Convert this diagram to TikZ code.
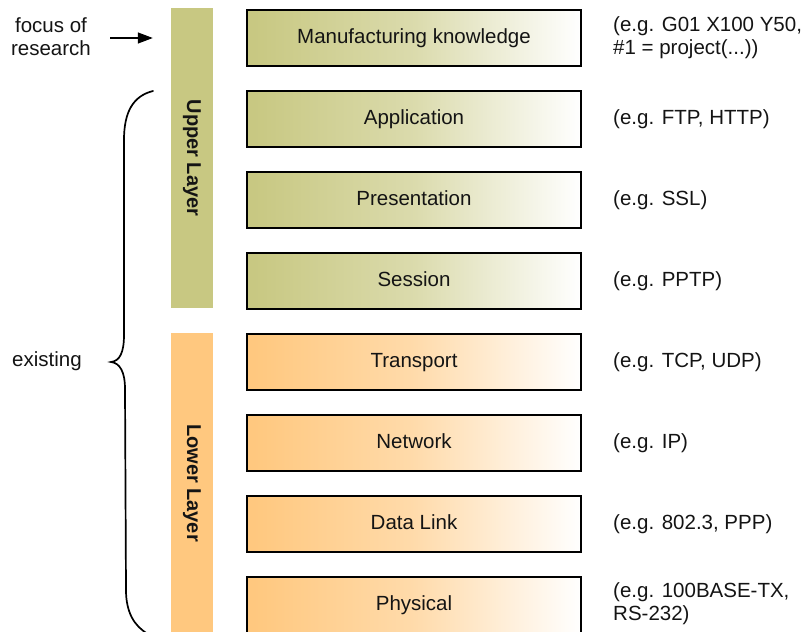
\documentclass[tikz,border=0pt]{standalone}
\usepackage{fontspec}
\setmainfont{Liberation Sans}
\usetikzlibrary{arrows.meta}

\definecolor{olivebase}{RGB}{200,200,130}
\definecolor{orangebase}{RGB}{255,200,127}
\colorlet{olivemid}{olivebase!66!white}
\colorlet{orangemid}{orangebase!66!white}
\definecolor{inktext}{RGB}{20,20,20}

% solid colour at the left edge, fading to white towards the right
\pgfdeclarehorizontalshading{olivefade}{100bp}{color(0bp)=(olivebase); color(26bp)=(olivebase); color(50bp)=(olivemid); color(75bp)=(white); color(100bp)=(white)}
\pgfdeclarehorizontalshading{orangefade}{100bp}{color(0bp)=(orangebase); color(26bp)=(orangebase); color(50bp)=(orangemid); color(75bp)=(white); color(100bp)=(white)}

\tikzset{
  basefont/.style={font=\fontsize{20.5}{23}\selectfont},
  layerbox/.style={draw=black, line width=1.2pt, minimum width=334pt, minimum height=56pt,
                   inner sep=0pt, text height=14.5pt, text depth=4pt, text=inktext},
  upperbox/.style={layerbox, shading=olivefade},
  lowerbox/.style={layerbox, shading=orangefade},
  groupbar/.style={rotate=-90, minimum width=300pt, minimum height=42pt, inner sep=0pt,
                   font=\fontsize{20}{23}\selectfont\bfseries, text=inktext},
  example/.style={anchor=west, align=left, inner sep=0pt, text=inktext},
  sidelabel/.style={align=center, inner sep=0pt, text=inktext},
  focusarrow/.style={line width=1.3pt, -{Triangle[length=15pt,width=11pt]}},
  bracestroke/.style={line width=1.7pt, line cap=round}
}

\begin{document}
\begin{tikzpicture}[x=1pt, y=-1pt, basefont]
\useasboundingbox (0,0) rectangle (804,632);

% group bars on the left of the stack
\node[groupbar, fill=olivebase]  (upperbar) at (192,158) {Upper Layer};
\node[groupbar, fill=orangebase] (lowerbar) at (192,483) {Lower Layer};

% the layer stack
\node[upperbox] (mfg)  at (414,38)  {Manufacturing knowledge};
\node[upperbox] (app)  at (414,119) {Application};
\node[upperbox] (pres) at (414,200) {Presentation};
\node[upperbox] (sess) at (414,281) {Session};
\node[lowerbox] (trans) at (414,362) {Transport};
\node[lowerbox] (net)   at (414,443) {Network};
\node[lowerbox] (dlink) at (414,524) {Data Link};
\node[lowerbox] (phys)  at (414,605) {Physical};

% protocol examples
\node[example] (exmfg)   at (613,38)  {(e.g. G01 X100 Y50,\\\#1 = project(...))};
\node[example] (exapp)   at (613,119) {(e.g. FTP, HTTP)};
\node[example] (expres)  at (613,200) {(e.g. SSL)};
\node[example] (exsess)  at (613,281) {(e.g. PPTP)};
\node[example] (extrans) at (613,362) {(e.g. TCP, UDP)};
\node[example] (exnet)   at (613,443) {(e.g. IP)};
\node[example] (exdlink) at (613,524) {(e.g. 802.3, PPP)};
\node[example] (exphys)  at (613,604) {(e.g. 100BASE-TX,\\RS-232)};

% left-hand annotations
\node[sidelabel] (focus) at (51,37) {focus of\\research};
\coordinate (arrowtail) at (110,38);
\draw[focusarrow, shorten >=18pt] (arrowtail) -- (arrowtail -| upperbar.south);

\node[sidelabel] (existing) at (47,361) {existing};

% curly brace spanning the existing layers
\draw[bracestroke]
  (153,91) .. controls (133,96) and (124,112) .. (124,140)
  -- (124,335)
  .. controls (124,352) and (120,361) .. (111,362)
  .. controls (120,363) and (125,372) .. (125,389)
  -- (126,590)
  .. controls (126,612) and (134,626) .. (148,634);
\end{tikzpicture}
\end{document}
